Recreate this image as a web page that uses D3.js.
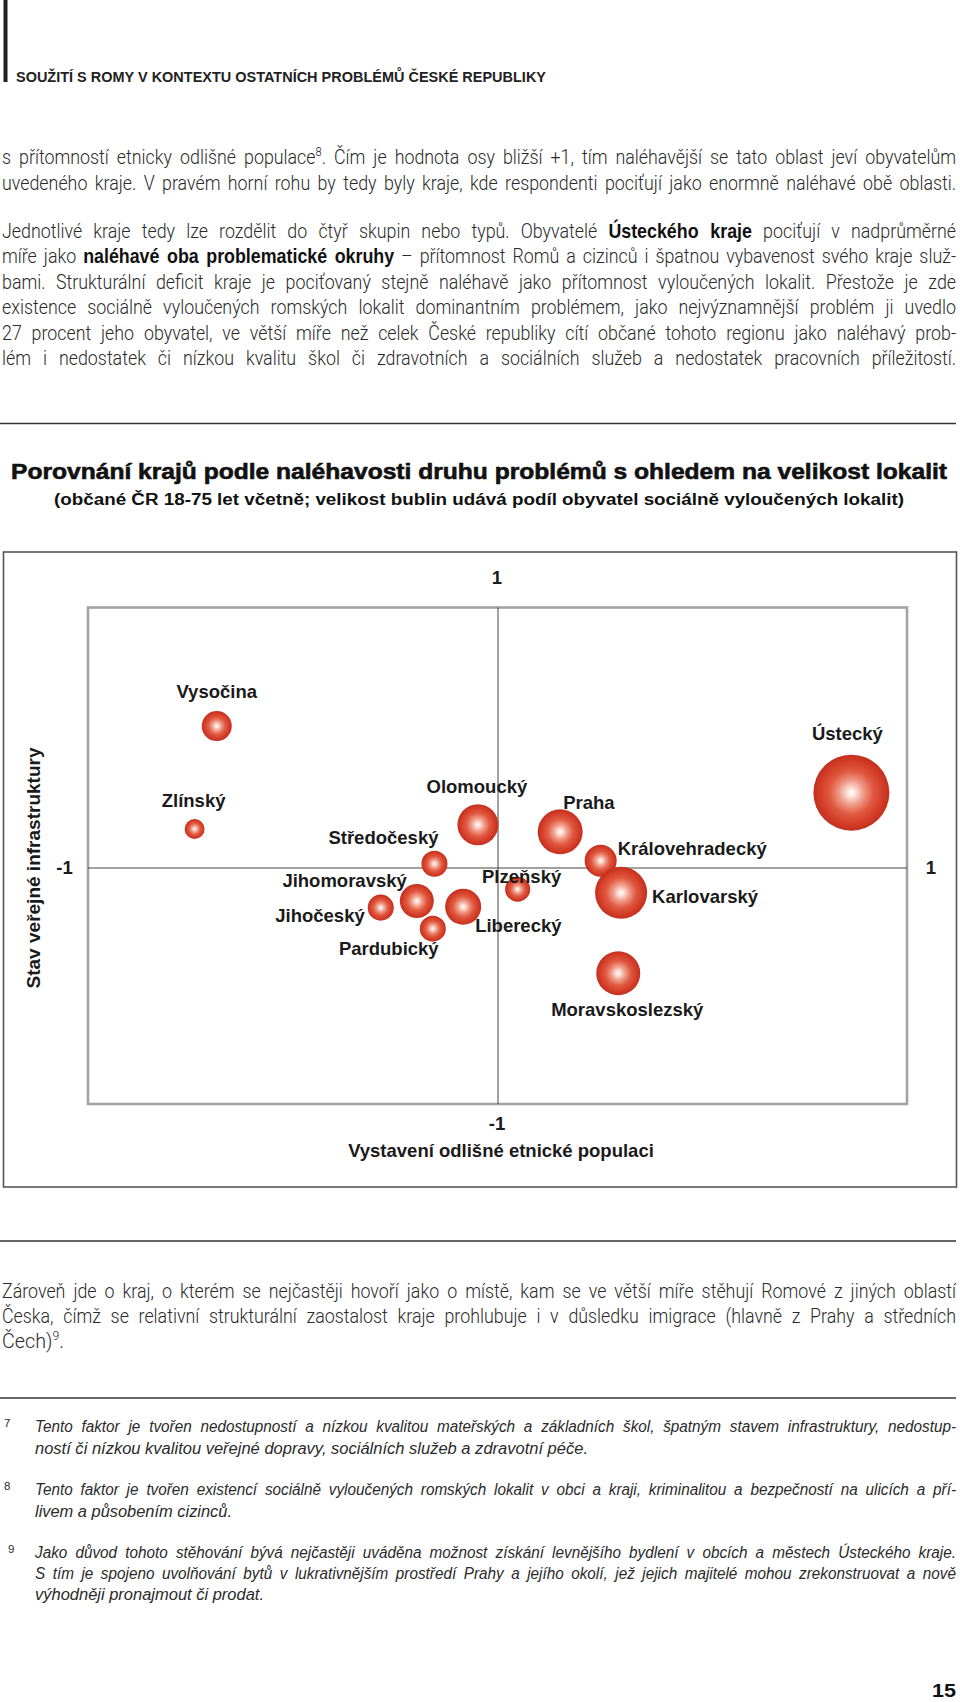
<!DOCTYPE html>
<html><head><meta charset="utf-8">
<script src="https://cdn.jsdelivr.net/npm/d3@7/dist/d3.min.js"></script>
<style>
html,body{margin:0;padding:0;background:#fff;}
svg{display:block;}
</style></head>
<body>
<svg id="page" width="960" height="1702"></svg>
<script>
// ---------------- DATA ----------------
const regions = ["Vysočina","Zlínský","Olomoucký","Praha","Ústecký","Středočeský","Královehradecký","Karlovarský","Plzeňský","Jihomoravský","Liberecký","Jihočeský","Pardubický","Moravskoslezský"];
// x: Vystavení odlišné etnické populaci
const ethnicExposure = [-0.686,-0.740,-0.049,0.152,0.864,-0.155,0.251,0.301,0.048,-0.198,-0.085,-0.286,-0.159,0.294];
// y: Stav veřejné infrastruktury
const infrastructure = [0.545,0.150,0.166,0.139,0.289,0.016,0.028,-0.105,-0.090,-0.140,-0.164,-0.168,-0.257,-0.446];
// bubble size: podíl obyvatel sociálně vyloučených lokalit (relative)
const excludedShare = [1.25,0.55,2.33,2.80,8.0,0.94,1.42,3.75,0.87,1.60,1.80,0.94,0.94,2.68];
const xTickValues = [-1, 1];
const xTickLabels = ["-1", "1"];
const yTickValues = [-1, 1];
const yTickLabels = ["-1", "1"];

const headerText = "SOUŽITÍ S ROMY V KONTEXTU OSTATNÍCH PROBLÉMŮ ČESKÉ REPUBLIKY";
const chartTitle = "Porovnání krajů podle naléhavosti druhu problémů s ohledem na velikost lokalit";
const chartSubtitle = "(občané ČR 18-75 let včetně; velikost bublin udává podíl obyvatel sociálně vyloučených lokalit)";
const xAxisTitle = "Vystavení odlišné etnické populaci";
const yAxisTitle = "Stav veřejné infrastruktury";
const pageNumber = "15";

const para1 = [
  "s přítomností etnicky odlišné populace^{8}. Čím je hodnota osy bližší +1, tím naléhavější se tato oblast jeví obyvatelům",
  "uvedeného kraje. V pravém horní rohu by tedy byly kraje, kde respondenti pociťují jako enormně naléhavé obě oblasti."
];
const para2 = [
  "Jednotlivé kraje tedy lze rozdělit do čtyř skupin nebo typů. Obyvatelé **Ústeckého kraje** pociťují v nadprůměrné",
  "míře jako **naléhavé oba problematické okruhy** – přítomnost Romů a cizinců i špatnou vybavenost svého kraje služ-",
  "bami. Strukturální deficit kraje je pociťovaný stejně naléhavě jako přítomnost vyloučených lokalit. Přestože je zde",
  "existence sociálně vyloučených romských lokalit dominantním problémem, jako nejvýznamnější problém ji uvedlo",
  "27 procent jeho obyvatel, ve větší míře než celek České republiky cítí občané tohoto regionu jako naléhavý prob-",
  "lém i nedostatek či nízkou kvalitu škol či zdravotních a sociálních služeb a nedostatek pracovních příležitostí."
];
const para3 = [
  "Zároveň jde o kraj, o kterém se nejčastěji hovoří jako o místě, kam se ve větší míře stěhují Romové z jiných oblastí",
  "Česka, čímž se relativní strukturální zaostalost kraje prohlubuje i v důsledku imigrace (hlavně z Prahy a středních",
  "Čech)^{9}."
];
const footnoteNumbers = ["7", "8", "9"];
const footnotes = [
  ["Tento faktor je tvořen nedostupností a nízkou kvalitou mateřských a základních škol, špatným stavem infrastruktury, nedostup-",
   "ností či nízkou kvalitou veřejné dopravy, sociálních služeb a zdravotní péče."],
  ["Tento faktor je tvořen existencí sociálně vyloučených romských lokalit v obci a kraji, kriminalitou a bezpečností na ulicích a pří-",
   "livem a působením cizinců."],
  ["Jako důvod tohoto stěhování bývá nejčastěji uváděna možnost získání levnějšího bydlení v obcích a městech Ústeckého kraje.",
   "S tím je spojeno uvolňování bytů v lukrativnějším prostředí Prahy a jejího okolí, jež jejich majitelé mohou zrekonstruovat a nově",
   "výhodněji pronajmout či prodat."]
];

// ---------------- LAYOUT ----------------
const svg = d3.select("#page");
const BODY_FONT = "Roboto, 'Liberation Sans', Arial, sans-serif";
const BOLD_FONT = "'Liberation Sans', Arial, Helvetica, sans-serif";

function drawLine(parent, str, x, y, width, o) {
  const g = parent.append("g").attr("transform", `translate(${x},${y}) scale(${o.sx},1)`);
  const t = g.append("text")
    .attr("font-size", o.size).attr("font-family", o.family)
    .attr("font-weight", o.weight || "normal")
    .attr("font-style", o.style || "normal")
    .attr("fill", o.fill || "#222");
  const parts = str.split(/(\*\*[^*]+\*\*|\^\{[^}]+\})/g).filter(s => s);
  let shifted = false;
  parts.forEach(s => {
    if (s.startsWith("**")) {
      const sp = t.append("tspan").attr("font-weight", "bold").attr("font-family", BOLD_FONT).attr("fill", "#111").text(s.slice(2, -2));
      if (shifted) { sp.attr("dy", o.size * 0.38); shifted = false; }
    } else if (s.startsWith("^{")) {
      t.append("tspan").attr("dy", -o.size * 0.38).attr("font-size", o.size * 0.62).text(s.slice(2, -1));
      shifted = true;
    } else {
      const sp = t.append("tspan").text(s);
      if (shifted) { sp.attr("dy", o.size * 0.38); shifted = false; }
    }
  });
  if (width) {
    const target = width / o.sx;
    const w = t.node().getComputedTextLength();
    const spaces = (str.match(/ /g) || []).length;
    if (w > target || !spaces || !o.justify) {
      t.attr("textLength", target).attr("lengthAdjust", "spacingAndGlyphs");
    } else {
      t.attr("word-spacing", (target - w) / spaces);
    }
  }
  return t;
}

// header bar + running head
svg.append("rect").attr("x", 3.5).attr("y", 0).attr("width", 4).attr("height", 82).attr("fill", "#222");
svg.append("text").attr("x", 16).attr("y", 82)
  .attr("font-family", BOLD_FONT).attr("font-size", 14.5).attr("font-weight", "bold")
  .attr("fill", "#222").attr("textLength", 530).attr("lengthAdjust", "spacingAndGlyphs")
  .text(headerText);

const bodyOpt = {size: 20.5, family: BODY_FONT, weight: 300, fill: "#2a2a2a", sx: 0.87, justify: true};
const body = svg.append("g");
[164, 189.5].forEach((y, i) => drawLine(body, para1[i], 2, y, 954, bodyOpt));
para2.forEach((l, i) => drawLine(body, l, 2, 237.5 + i * 25.5, 954, bodyOpt));
const p3w = [954, 954, 62];
para3.forEach((l, i) => drawLine(body, l, 2, 1298 + i * 25, p3w[i], Object.assign({}, bodyOpt, {justify: i < 2})));

// rules
[423.5, 1241, 1398].forEach(yy =>
  svg.append("line").attr("x1", 0).attr("x2", 956).attr("y1", yy).attr("y2", yy)
    .attr("stroke", "#333").attr("stroke-width", 1.5));

// titles
svg.append("text").attr("x", 479).attr("y", 479).attr("text-anchor", "middle")
  .attr("font-family", BOLD_FONT).attr("font-weight", "bold").attr("font-size", 21.5)
  .attr("fill", "#111").attr("stroke", "#111").attr("stroke-width", 0.6)
  .attr("textLength", 936).attr("lengthAdjust", "spacingAndGlyphs").text(chartTitle);
svg.append("text").attr("x", 479).attr("y", 505).attr("text-anchor", "middle")
  .attr("font-family", BOLD_FONT).attr("font-weight", "bold").attr("font-size", 16)
  .attr("fill", "#111").attr("textLength", 850).attr("lengthAdjust", "spacingAndGlyphs").text(chartSubtitle);

// ---------------- CHART ----------------
const frame = {left: 88, right: 907, top: 607.5, bottom: 1104};
const x = d3.scaleLinear().domain([-1, 0, 1]).range([frame.left, 498, frame.right]);
const y = d3.scaleLinear().domain([-1, 0, 1]).range([frame.bottom, 868, frame.top]);
const r = d3.scaleSqrt().domain([0, 8]).range([0, 38]);

// outer box
svg.append("rect").attr("x", 3.5).attr("y", 552).attr("width", 953).attr("height", 635)
  .attr("fill", "none").attr("stroke", "#555").attr("stroke-width", 1.6);
// plot frame
svg.append("rect").attr("x", x(-1)).attr("y", y(1)).attr("width", x(1) - x(-1)).attr("height", y(-1) - y(1))
  .attr("fill", "none").attr("stroke", "#a3a3a3").attr("stroke-width", 2.6);
// center axes
svg.append("line").attr("x1", x(0)).attr("x2", x(0)).attr("y1", y(1)).attr("y2", y(-1)).attr("stroke", "#444").attr("stroke-width", 1);
svg.append("line").attr("x1", x(-1)).attr("x2", x(1)).attr("y1", y(0)).attr("y2", y(0)).attr("stroke", "#444").attr("stroke-width", 1);

const axisFont = {family: BOLD_FONT, size: 18.5};
svg.selectAll("text.xtick").data(xTickValues).join("text").attr("class", "xtick")
  .attr("x", d => x(d) + (d < 0 ? -23.5 : 24)).attr("y", y(0) + 6)
  .attr("text-anchor", "middle").attr("font-family", axisFont.family).attr("font-weight", "bold")
  .attr("font-size", axisFont.size).attr("fill", "#1a1a1a").text((d, i) => xTickLabels[i]);
svg.selectAll("text.ytick").data(yTickValues).join("text").attr("class", "ytick")
  .attr("x", x(0) - 1).attr("y", d => y(d) + (d > 0 ? -23.5 : 26))
  .attr("text-anchor", "middle").attr("font-family", axisFont.family).attr("font-weight", "bold")
  .attr("font-size", axisFont.size).attr("fill", "#1a1a1a").text((d, i) => yTickLabels[i]);

// axis titles
svg.append("text").attr("x", 501).attr("y", 1157).attr("text-anchor", "middle")
  .attr("font-family", BOLD_FONT).attr("font-weight", "bold").attr("font-size", 18.5)
  .attr("fill", "#1a1a1a").text(xAxisTitle);
svg.append("text").attr("transform", "translate(40,868) rotate(-90)").attr("text-anchor", "middle")
  .attr("font-family", BOLD_FONT).attr("font-weight", "bold").attr("font-size", 18)
  .attr("fill", "#1a1a1a").attr("textLength", 241).attr("lengthAdjust", "spacingAndGlyphs").text(yAxisTitle);

// gradient
const defs = svg.append("defs");
const grad = defs.append("radialGradient").attr("id", "bubbleGrad").attr("cx", "50%").attr("cy", "50%").attr("r", "50%");
[[0, "#ffffff"], [0.1, "#fde4dc"], [0.32, "#ef9a88"], [0.58, "#e0583f"], [0.85, "#d23b27"], [1, "#c2301d"]]
  .forEach(([o, c]) => grad.append("stop").attr("offset", o).attr("stop-color", c));

const points = regions.map((name, i) => ({name, ex: ethnicExposure[i], inf: infrastructure[i], share: excludedShare[i]}));

svg.append("g").selectAll("circle").data(points).join("circle")
  .attr("cx", d => x(d.ex)).attr("cy", d => y(d.inf)).attr("r", d => r(d.share))
  .attr("fill", "url(#bubbleGrad)");

// label placement (layout only): [dx, dy, anchor]
const labelPlacement = {
  "Vysočina": [0, -28, "middle"],
  "Zlínský": [-1, -22, "middle"],
  "Olomoucký": [-1, -32, "middle"],
  "Praha": [3, -23, "start"],
  "Ústecký": [-4, -53, "middle"],
  "Středočeský": [-51, -20, "middle"],
  "Královehradecký": [17, -6, "start"],
  "Karlovarský": [31, 10, "start"],
  "Plzeňský": [4, -6, "middle"],
  "Jihomoravský": [-10, -14, "end"],
  "Liberecký": [12, 25, "start"],
  "Jihočeský": [-16, 14, "end"],
  "Pardubický": [-44, 26, "middle"],
  "Moravskoslezský": [9, 43, "middle"]
};
svg.append("g").selectAll("text").data(points).join("text")
  .attr("x", d => x(d.ex) + labelPlacement[d.name][0])
  .attr("y", d => y(d.inf) + labelPlacement[d.name][1])
  .attr("text-anchor", d => labelPlacement[d.name][2])
  .attr("font-family", BOLD_FONT).attr("font-weight", "bold").attr("font-size", 18.5)
  .attr("fill", "#1a1a1a").text(d => d.name);

// ---------------- FOOTNOTES ----------------
const fnOpt = {size: 17, family: "'Liberation Sans', Arial, sans-serif", style: "italic", fill: "#2a2a2a", sx: 0.9, justify: true};
const fnBase = [[1432, 1453.5], [1495, 1516.5], [1558, 1579, 1600]];
const fnLastW = [553, 197, 229];
const fnNumX = [4, 4, 8];
footnotes.forEach((lines, k) => {
  svg.append("text").attr("x", fnNumX[k]).attr("y", fnBase[k][0] - 5).attr("font-family", "'Liberation Sans', Arial, sans-serif")
    .attr("font-size", 11.5).attr("fill", "#2a2a2a").text(footnoteNumbers[k]);
  lines.forEach((l, i) => {
    const last = i === lines.length - 1;
    drawLine(svg, l, 35, fnBase[k][i], last ? fnLastW[k] : 921, Object.assign({}, fnOpt, {justify: !last}));
  });
});

svg.append("text").attr("x", 956).attr("y", 1697).attr("text-anchor", "end")
  .attr("font-family", BOLD_FONT).attr("font-weight", "bold").attr("font-size", 18)
  .attr("fill", "#111").attr("textLength", 24).attr("lengthAdjust", "spacingAndGlyphs").text(pageNumber);
</script>
</body></html>
